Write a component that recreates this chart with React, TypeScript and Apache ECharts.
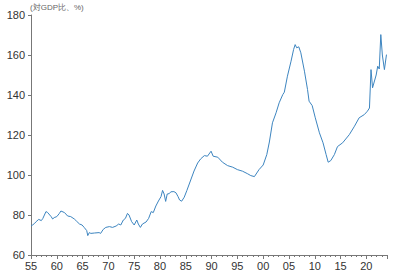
import React, { useEffect, useRef } from "react";
import * as echarts from "echarts";

const years = [
  1955.0, 1955.3, 1955.7, 1956.0, 1956.5, 1957.0, 1957.3, 1957.9, 1958.2, 1958.9,
  1959.2, 1959.5, 1960.0, 1960.5, 1960.8, 1961.5, 1962.1, 1962.7, 1963.4, 1963.8,
  1964.4, 1964.9, 1965.3, 1965.8, 1966.0, 1966.3, 1966.6, 1967.3, 1968.2, 1968.5,
  1969.0, 1969.5, 1970.2, 1970.8, 1971.5, 1972.0, 1972.4, 1972.9, 1973.3, 1973.7,
  1974.0, 1974.5, 1975.0, 1975.5, 1975.8, 1976.2, 1976.6, 1977.3, 1977.8, 1978.3,
  1978.7, 1979.2, 1979.7, 1980.2, 1980.5, 1980.8, 1981.1, 1981.4, 1981.8, 1982.1,
  1982.7, 1983.1, 1983.5, 1983.8, 1984.2, 1984.7, 1985.2, 1985.6, 1986.1, 1986.6,
  1987.3, 1987.9, 1988.6, 1989.2, 1989.9, 1990.3, 1991.2, 1992.1, 1993.1, 1994.1,
  1995.0, 1996.0, 1997.0, 1997.6, 1998.3, 1999.2, 2000.0, 2000.7, 2001.2, 2001.8,
  2002.5, 2003.1, 2003.8, 2004.1, 2004.7, 2005.4, 2005.9, 2006.2, 2006.5, 2006.9,
  2007.3, 2008.0, 2008.6, 2008.9, 2009.5, 2010.1, 2010.9, 2011.6, 2012.2, 2012.6,
  2013.1, 2013.8, 2014.4, 2015.4, 2016.7, 2017.7, 2018.6, 2019.6, 2020.2, 2020.6,
  2020.9, 2021.2, 2021.9, 2022.2, 2022.5, 2022.8, 2023.1, 2023.5, 2023.9,
];

const values = [
  74.5, 75.0, 75.8, 76.7, 77.8, 77.2, 78.3, 81.7, 81.3, 79.2,
  78.0, 78.7, 79.2, 80.8, 82.0, 81.2, 79.5, 79.2, 78.0, 77.0,
  75.5, 75.0, 73.8, 72.2, 69.7, 71.2, 70.8, 71.0, 71.2, 70.8,
  72.8, 73.8, 74.2, 73.8, 74.5, 75.5, 75.0, 77.5, 78.3, 80.8,
  80.0, 76.7, 75.0, 77.5, 75.5, 73.8, 75.5, 76.5, 78.3, 81.7,
  81.2, 84.5, 87.0, 89.2, 92.3, 90.5, 86.8, 90.5, 90.7, 91.6,
  91.7, 91.1, 89.2, 87.5, 86.9, 88.9, 92.2, 95.0, 98.5, 102.0,
  106.0, 108.1, 109.7, 109.4, 111.9, 109.4, 108.9, 106.4, 104.7, 103.9,
  102.7, 101.9, 100.6, 99.7, 99.2, 102.7, 105.0, 110.2, 116.5, 126.1,
  131.1, 136.1, 140.2, 141.4, 149.4, 156.9, 162.8, 165.2, 163.6, 164.1,
  161.1, 151.9, 142.7, 136.9, 134.7, 128.6, 121.1, 116.1, 110.2, 106.4,
  107.2, 110.2, 114.2, 116.1, 120.2, 124.4, 128.6, 130.2, 131.9, 133.5,
  152.7, 143.6, 150.0, 154.4, 153.0, 170.2, 160.0, 152.7, 160.2,
];

const yTicks = [60, 80, 100, 120, 140, 160, 180];
const unitLabel = "(対GDP比、%)";

export default function App() {
  const ref = useRef<HTMLDivElement>(null);
  useEffect(() => {
    if (!ref.current) return;
    const chart = echarts.init(ref.current, undefined, { renderer: "svg" });
    const font = "Liberation Sans, Arial, sans-serif";
    chart.setOption({
      animation: false,
      backgroundColor: "#ffffff",
      grid: { left: 31, right: 10, top: 15, bottom: 22 },
      graphic: [
        {
          type: "text",
          left: 30,
          top: 3,
          style: { text: unitLabel, fontSize: 8, fill: "#666", fontFamily: font },
        },
      ],
      xAxis: {
        type: "value",
        min: 1955,
        max: 2024,
        interval: 5,
        axisLine: { show: true, lineStyle: { color: "#777", width: 1 } },
        axisTick: { show: true, length: 4, lineStyle: { color: "#777" } },
        minorTick: { show: true, splitNumber: 5, length: 2, lineStyle: { color: "#777" } },
        splitLine: { show: false },
        axisLabel: {
          color: "#333",
          fontSize: 11,
          fontFamily: font,
          margin: 5,
          showMaxLabel: false,
          formatter: (v: number) => (v % 5 === 0 ? String(v % 100).padStart(2, "0") : ""),
        },
      },
      yAxis: {
        type: "value",
        min: yTicks[0],
        max: yTicks[yTicks.length - 1],
        interval: 20,
        axisLine: { show: true, lineStyle: { color: "#777", width: 1 } },
        axisTick: { show: true, length: 3, lineStyle: { color: "#777" } },
        splitLine: { show: false },
        axisLabel: { color: "#333", fontSize: 11, fontFamily: font, margin: 6 },
      },
      series: [
        {
          type: "line",
          data: years.map((y, i) => [y, values[i]]),
          showSymbol: false,
          lineStyle: { color: "#3d85c0", width: 1 },
          itemStyle: { color: "#3d85c0" },
        },
      ],
    });
    return () => chart.dispose();
  }, []);
  return (
    <div
      ref={ref}
      style={{ position: "fixed", left: 0, top: 0, width: 397, height: 277 }}
    />
  );
}
